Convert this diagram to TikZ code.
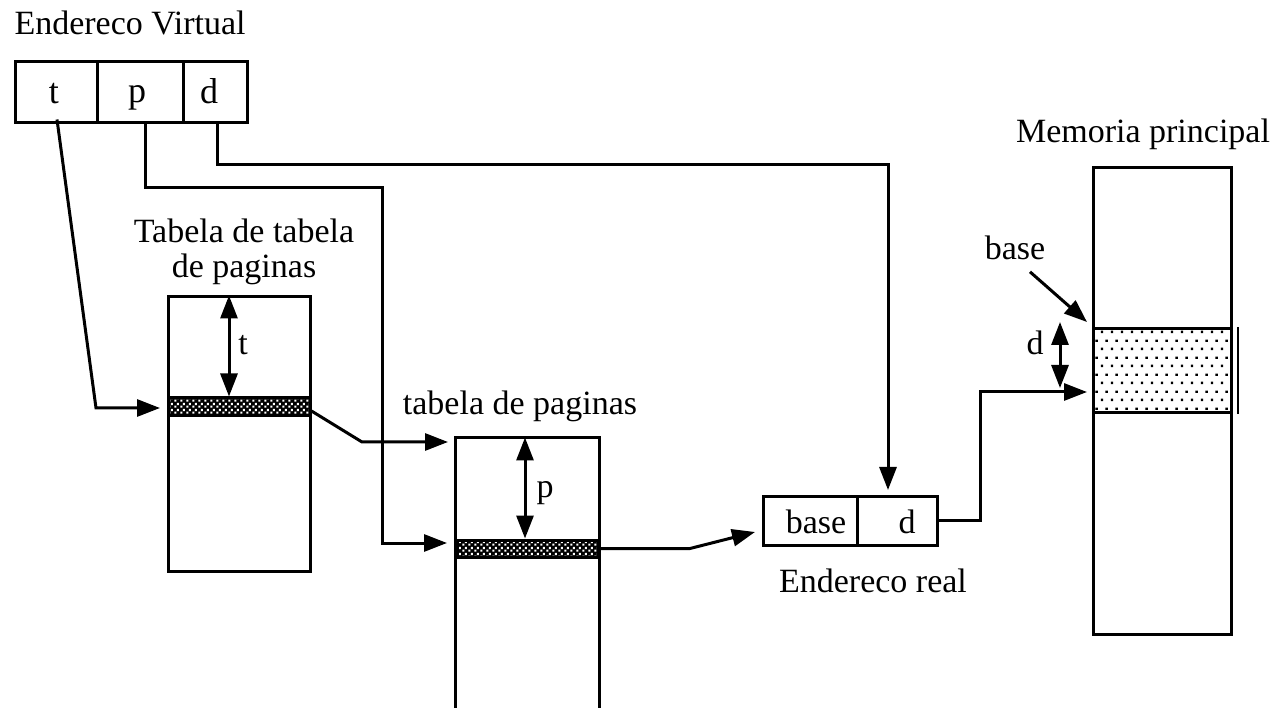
\documentclass[tikz,border=0pt]{standalone}
\usepackage{fontspec}
\setmainfont{Liberation Serif}
\usetikzlibrary{arrows.meta,patterns,calc}

% white holes of the dark checkerboard used for the selected table entries
\pgfdeclarepatternformonly{checkholes}{\pgfpointorigin}{\pgfpoint{6pt}{6pt}}{\pgfpoint{6pt}{6pt}}{%
  \pgfpathrectangle{\pgfpoint{0.3pt}{0.3pt}}{\pgfpoint{2.4pt}{2.4pt}}%
  \pgfpathrectangle{\pgfpoint{3.3pt}{3.3pt}}{\pgfpoint{2.4pt}{2.4pt}}%
  \pgfusepath{fill}}
% sparse staggered dots used for the page frame in memory
\pgfdeclarepatternformonly{sparsedots}{\pgfpointorigin}{\pgfpoint{10pt}{17pt}}{\pgfpoint{10pt}{17pt}}{%
  \pgfpathrectangle{\pgfpoint{1pt}{1pt}}{\pgfpoint{2.5pt}{2.5pt}}%
  \pgfpathrectangle{\pgfpoint{6pt}{9.5pt}}{\pgfpoint{2.5pt}{2.5pt}}%
  \pgfusepath{fill}}

\begin{document}
\begin{tikzpicture}[x=1pt,y=-1pt,line width=3pt,
  box/.style={draw,inner sep=0pt,line width=3pt},
  sel/.style={box,preaction={fill=black},pattern=checkholes,pattern color=white},
  lbl/.style={inner sep=0pt,font=\fontsize{34}{40}\selectfont},
  biglbl/.style={inner sep=0pt,font=\fontsize{36}{42}\selectfont},
  arr/.style={-{Triangle[length=23pt,width=17pt]}},
  darr/.style={{Triangle[length=23pt,width=17pt]}-{Triangle[length=23pt,width=17pt]}}]
\useasboundingbox (0,0) rectangle (1283,708);

% ---- virtual address ----
\node[lbl,anchor=base west] (vtitle) at (13,35) {Endereco Virtual};
\node[box,minimum width=82pt,minimum height=61pt] (vt) at (56,92.5) {};
\node[box,minimum width=86pt,minimum height=61pt] (vp) at (140,92.5) {};
\node[box,minimum width=64pt,minimum height=61pt] (vd) at (215,92.5) {};
\node[biglbl,anchor=base] (vtl) at (54,104) {t};
\node[biglbl,anchor=base] (vpl) at (137,103) {p};
\node[biglbl,anchor=base] (vdl) at (209,104) {d};

% ---- table of page tables ----
\node[lbl,anchor=base] (ttl1) at (244,243) {Tabela de tabela};
\node[lbl,anchor=base] (ttl2) at (244,278) {de paginas};
\node[box,minimum width=142pt,minimum height=274pt] (tt) at (239,434) {};
\node[sel,minimum width=142pt,minimum height=18pt] (ttrow) at (239,407) {};
\draw[darr] ([xshift=-10pt]tt.north) -- ([xshift=-10pt]ttrow.north);
\node[lbl,anchor=base] (ttt) at (243,355) {t};

% ---- page table (open at the bottom) ----
\node[lbl,anchor=base] (ptl) at (520,415) {tabela de paginas};
\node[inner sep=0pt,minimum width=141pt,minimum height=269pt] (pt) at (527.5,573.5) {};
\draw (pt.south west) -- (pt.north west) -- (pt.north east) -- (pt.south east);
\node[sel,minimum width=141pt,minimum height=17pt] (ptrow) at (527.5,548.5) {};
\draw[darr] ([xshift=-2.5pt]pt.north) -- ([xshift=-2.5pt]ptrow.north);
\node[lbl,anchor=base] (ptp) at (545,497) {p};

% ---- real address ----
\node[box,minimum width=94pt,minimum height=49pt] (rb) at (810,520.5) {};
\node[box,minimum width=80pt,minimum height=49pt] (rd) at (897,520.5) {};
\node[lbl,anchor=base] (rbl) at (816,533) {base};
\node[lbl,anchor=base] (rdl) at (907,533) {d};
\node[lbl,anchor=base] (rtitle) at (873,592) {Endereco real};

% ---- main memory ----
\node[lbl,anchor=base] (mtitle) at (1143,143) {Memoria principal};
\node[box,minimum width=138pt,minimum height=466pt] (mem) at (1162,401) {};
\node[box,pattern=sparsedots,minimum width=138pt,minimum height=84pt] (memrow) at (1162,371) {};
\draw[line width=2pt] ([xshift=5pt]memrow.north east) -- ([xshift=5pt]memrow.south east);
\node[lbl,anchor=base] (mbase) at (1015,260) {base};
\node[lbl,anchor=base] (md) at (1035,355) {d};
\coordinate (mbtip) at (1087,322);
\draw[arr] ([xshift=15pt,yshift=-10pt]mbase.south) -- (mbtip);
\coordinate (mdtop) at (1060,322);
\coordinate (mdbot) at (1060,388);
\draw[darr] (mdtop) -- (mdbot);

% ---- connectors ----
\coordinate (tin) at (160,408);
\draw[arr] ([xshift=1pt,yshift=5pt]vt.south) -- (96,408) -- (tin);

\coordinate (pin) at (447,543);
\draw[arr] ([xshift=5pt]vp.south) -- (145,188) -- (382,188) -- (382,543) -- (pin);

\coordinate (din) at (888,490);
\draw[arr] ([xshift=2pt]vd.south) -- (217,165) -- (888,165) -- (din);

\coordinate (ptin) at (448,442);
\draw[arr] ([yshift=-4pt]ttrow.east) -- (362,442) -- (ptin);

\coordinate (rin) at (755,532);
\draw[arr] (ptrow.east) -- (690,548.5) -- (rin);

\coordinate (min) at (1087,392);
\draw[arr] (rd.east) -- (980,520.5) -- (980,392) -- (min);
\end{tikzpicture}
\end{document}
